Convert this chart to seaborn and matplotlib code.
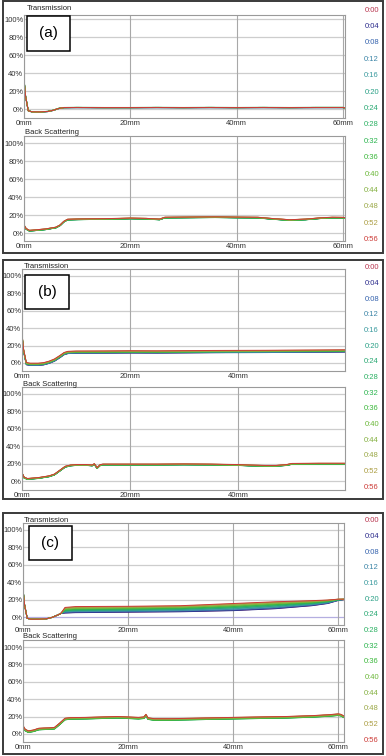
import numpy as np
import pandas as pd
import matplotlib
matplotlib.use("Agg")
import matplotlib.pyplot as plt
from matplotlib.patches import Rectangle
import seaborn as sns

# ---------------- data ----------------
times = ["0:00", "0:04", "0:08", "0:12", "0:16", "0:20", "0:24", "0:28",
         "0:32", "0:36", "0:40", "0:44", "0:48", "0:52", "0:56"]
time_colors = ["#b8344e", "#2b2b8c", "#3462ad", "#3a84a6", "#3a9a9e", "#2aa086",
               "#28a872", "#2ab062", "#2ab44e", "#3cb83c", "#6cb83a", "#84b040",
               "#9aa846", "#aa9c40", "#cc3a36"]

x_ticks_mm = [0, 20, 40, 60]
x_tick_labels = ["0mm", "20mm", "40mm", "60mm"]
y_ticks_pct = [0, 20, 40, 60, 80, 100]
y_tick_labels = ["0%", "20%", "40%", "60%", "80%", "100%"]

# (a) transmission
a_t_mm = [0, 0.3, 0.8, 1.5, 3, 4.5, 5.5, 6.5, 7.5, 10, 15, 20, 25, 30, 35, 40, 45, 50, 55, 60, 60.4]
a_t_pct = [33, 14, -2, -3.2, -3.3, -2.8, -1.5, 0.5, 1.5, 1.6, 1.5, 1.5, 1.6, 1.5, 1.6, 1.5, 1.6, 1.5, 1.6, 1.6, 1.2]
a_t_shift = [0.0, -0.1, -0.1, 0.0, 0.0, 0.1, 0.1, 0.2, 0.2, 0.1, 0.1, 0.0, 0.0, 0.1, 0.1]

# (a) back scattering
a_bs_mm = [0, 0.4, 1, 2, 3, 4, 5, 6, 6.8, 7.5, 8.2, 10, 12, 15, 18, 20, 23, 25.5, 26.5, 28,
           32, 36, 40, 44, 47, 50, 53, 56, 58, 60, 60.4]
a_bs_pct = [9, 5, 3, 3.4, 4, 4.5, 5.5, 6.5, 9, 13, 15.3, 15.6, 15.8, 16, 16.3, 16.6, 16.3, 15.5,
            17.5, 17.6, 17.8, 18, 17.7, 17.5, 16.0, 14.8, 15.5, 17, 17.5, 17.4, 17.2]
a_bs_shift = [0.2, -0.3, -0.3, -0.2, -0.2, -0.4, -0.4, -0.5, -0.5, -0.3, -0.1, 0.0, 0.2, 0.3, 0.3]

# (b) transmission
b_t_mm = [0, 0.3, 0.8, 1.5, 3, 4, 5, 6, 7, 7.8, 8.5, 10, 15, 20, 25, 30, 35, 40, 45, 50, 55, 59.8]
b_t_pct = [32, 14, -1, -1.8, -1.8, -1.2, 0.5, 3, 7, 10.5, 11.8, 12.2, 12.3, 12.5, 12.4, 12.6,
           12.8, 12.9, 13.0, 13.2, 13.4, 13.6]
b_t_shift = [-0.8, -1.0, -0.8, -0.5, -0.3, 0.0, 0.2, 0.3, 0.3, 0.2, 0.5, 0.8, 1.0, 1.3, 1.6]

# (b) back scattering
b_bs_mm = [0, 0.4, 1, 2, 3, 4, 5, 6, 7, 8, 9, 10, 12, 13, 13.4, 13.9, 14.5, 15, 20, 25, 30,
           35, 40, 42, 45, 47, 49, 50, 55, 59.8]
b_bs_pct = [9, 4, 2.5, 3, 3.5, 4.5, 5.5, 7.5, 12, 16.5, 18, 18.5, 18.5, 18, 19.5, 15, 18.5,
            19, 19, 19, 19.2, 19, 18.5, 18, 17.5, 17.5, 18.5, 19.8, 20, 20]
b_bs_shift = [0.2, -0.3, -0.4, -0.3, -0.3, -0.5, -0.6, -0.6, -0.5, -0.4, -0.2, 0.0, 0.2, 0.3, 0.4]

# (c) transmission: common start, then one plateau row per time
c_t_head_mm = [0, 0.3, 0.8, 1.5, 3, 4.5, 5.5, 6.5, 7.2]
c_t_head_pct = [32, 14, -1.5, -2.5, -2.5, -2, -0.5, 2, 4]
c_t_tail_mm = [8, 10, 20, 30, 40, 48, 55, 58, 60, 61.1]
c_t_tail_pct = [
    [4.8, 5.3, 5.8, 6.3, 7.6, 9.8, 13.2, 15.7, 19.1, 20.0],
    [4.5, 5.0, 5.5, 6.0, 7.3, 9.5, 13.0, 15.5, 19.0, 20.0],
    [5.2, 5.8, 6.2, 6.8, 8.1, 10.4, 13.7, 16.0, 19.3, 20.1],
    [5.8, 6.4, 6.8, 7.4, 8.8, 11.0, 14.2, 16.4, 19.4, 20.1],
    [6.3, 6.9, 7.4, 8.0, 9.5, 11.7, 14.7, 16.8, 19.6, 20.2],
    [6.8, 7.4, 7.9, 8.6, 10.2, 12.4, 15.2, 17.2, 19.7, 20.2],
    [7.2, 7.9, 8.4, 9.1, 10.8, 13.0, 15.6, 17.5, 19.8, 20.2],
    [7.6, 8.4, 8.9, 9.6, 11.4, 13.6, 16.0, 17.8, 19.9, 20.3],
    [8.0, 8.8, 9.3, 10.1, 12.0, 14.2, 16.4, 18.1, 20.0, 20.3],
    [8.5, 9.3, 9.8, 10.6, 12.6, 14.7, 16.8, 18.4, 20.1, 20.3],
    [9.0, 9.8, 10.3, 11.1, 13.2, 15.3, 17.2, 18.6, 20.2, 20.4],
    [9.5, 10.3, 10.8, 11.6, 13.8, 15.9, 17.6, 18.9, 20.3, 20.4],
    [10.0, 10.9, 11.3, 12.1, 14.4, 16.5, 18.0, 19.1, 20.4, 20.4],
    [10.5, 11.4, 11.8, 12.6, 15.0, 17.0, 18.4, 19.3, 20.4, 20.5],
    [11.0, 12.0, 12.3, 13.0, 15.5, 17.5, 18.8, 19.5, 20.5, 20.5],
]

# (c) back scattering
c_bs_mm = [0, 0.4, 1, 2, 3, 4, 5, 6, 7, 8, 9, 12, 15, 18, 20, 22, 23, 23.4, 23.8, 25, 28, 32,
           36, 40, 45, 50, 55, 58, 60, 60.5, 61.1]
c_bs_pct = [9, 5, 3, 4, 6, 6.3, 6.5, 7, 12, 17.5, 18.2, 18.5, 19, 19.5, 19, 18.5, 19, 22, 18,
            17, 17, 17.5, 18, 18.5, 19, 19.5, 20.5, 21.5, 22.5, 22, 20]
c_bs_shift = [0.3, -0.5, -0.8, -0.6, -0.4, -0.8, -1.0, -1.2, -1.2, -1.0, -0.6, -0.2, 0.2, 0.5, 0.6]


def long_frame(mm, pct, shift):
    rows = []
    for t, s in zip(times, shift):
        for x, y in zip(mm, pct):
            rows.append((x, y + s, t))
    return pd.DataFrame(rows, columns=["mm", "pct", "time"])


def long_frame_rows(head_mm, head_pct, tail_mm, tail_rows):
    rows = []
    for t, tail in zip(times, tail_rows):
        for x, y in zip(list(head_mm) + list(tail_mm), list(head_pct) + list(tail)):
            rows.append((x, y, t))
    return pd.DataFrame(rows, columns=["mm", "pct", "time"])


# ---------------- style / figure ----------------
sns.set_style("white")
plt.rcParams['font.family'] = ['Liberation Sans', 'DejaVu Sans']

W, H = 386, 756
fig = plt.figure(figsize=(W / 100, H / 100), dpi=100)
palette = dict(zip(times, time_colors))


def fx(px):
    return px / W


def fy(py):
    return 1 - py / H


def make_axes(df, left, right, top, bottom, y0, y100, xmax, title, title_x, title_base, zero_color=None):
    ax = fig.add_axes([fx(left), fy(bottom), (right - left) / W, (bottom - top) / H])
    s = (y0 - y100) / 100.0
    ax.set_xlim(0, xmax)
    ax.set_ylim(-(bottom - y0) / s, (y0 - top) / s)
    for yv in y_ticks_pct:
        col = zero_color if (yv == 0 and zero_color) else "#cdcdcd"
        ax.axhline(yv, color=col, lw=0.9, zorder=0)
    for xv in x_ticks_mm:
        if xv <= xmax:
            ax.axvline(xv, color="#a8a8a8", lw=0.8, zorder=0)
    sns.lineplot(data=df, x="mm", y="pct", hue="time", palette=palette, hue_order=times,
                 estimator=None, sort=False, legend=False, lw=0.7, ax=ax)
    ax.set_xlabel("")
    ax.set_ylabel("")
    xt = [v for v in x_ticks_mm if v <= xmax]
    ax.set_xticks(xt)
    ax.set_xticklabels(x_tick_labels[:len(xt)])
    ax.set_yticks(y_ticks_pct)
    ax.set_yticklabels(y_tick_labels)
    ax.tick_params(axis="both", length=0, labelsize=5.5, colors="#333333")
    ax.tick_params(axis="y", pad=0.5)
    ax.tick_params(axis="x", pad=1.5)
    for sp in ax.spines.values():
        sp.set_color("#9a9a9a")
        sp.set_linewidth(0.8)
    fig.text(fx(title_x), fy(title_base), title, fontsize=5.5, color="#222222",
             ha="left", va="baseline")
    return ax


# ---------------- panels ----------------
panels = [
    # frame top, bottom, label box (x0, y0, x1, y1), label, legend y first, legend spacing
    dict(frame=(3, 1, 383, 253), box=(27, 16, 70, 51), label="(a)", leg0=10, legd=16.4),
    dict(frame=(3, 260, 383, 499), box=(25, 275, 69, 309), label="(b)", leg0=268, legd=15.65),
    dict(frame=(3, 513, 383, 754), box=(29, 526, 72, 560), label="(c)", leg0=521, legd=15.65),
]

for p in panels:
    x0, y0, x1, y1 = p["frame"]
    fig.add_artist(Rectangle((fx(x0), fy(y1)), (x1 - x0) / W, (y1 - y0) / H,
                             transform=fig.transFigure, fill=False,
                             edgecolor="#3a3a3a", lw=1.4, zorder=0))

make_axes(long_frame(a_t_mm, a_t_pct, a_t_shift), 24, 345, 15, 118, 109, 19, 60.4,
          "Transmission", 27, 9.5)
make_axes(long_frame(a_bs_mm, a_bs_pct, a_bs_shift), 24, 345, 136, 241, 233.3, 143.3, 60.4,
          "Back Scattering", 25, 133.5)
make_axes(long_frame(b_t_mm, b_t_pct, b_t_shift), 22, 345, 269, 371, 363, 276, 59.8,
          "Transmission", 24, 267.5)
make_axes(long_frame(b_bs_mm, b_bs_pct, b_bs_shift), 22, 345, 387, 490, 481, 394, 59.8,
          "Back Scattering", 23, 385.5)
make_axes(long_frame_rows(c_t_head_mm, c_t_head_pct, c_t_tail_mm, c_t_tail_pct),
          23, 344, 523, 625, 617, 530, 61.1, "Transmission", 24, 521.5, zero_color="#b4aee0")
make_axes(long_frame(c_bs_mm, c_bs_pct, c_bs_shift), 23, 344, 640, 742, 734, 647, 61.1,
          "Back Scattering", 23, 638.5)

for p in panels:
    bx0, by0, bx1, by1 = p["box"]
    fig.add_artist(Rectangle((fx(bx0), fy(by1)), (bx1 - bx0) / W, (by1 - by0) / H,
                             transform=fig.transFigure, facecolor="white",
                             edgecolor="black", lw=1.1, zorder=5))
    fig.text(fx((bx0 + bx1) / 2), fy((by0 + by1) / 2), p["label"], fontsize=11,
             ha="center", va="center", color="black", zorder=6)
    for i, (t, c) in enumerate(zip(times, time_colors)):
        fig.text(fx(379), fy(p["leg0"] + i * p["legd"]), t, fontsize=5.5, color=c,
                 ha="right", va="center")

fig.savefig("out.png", dpi=100)
